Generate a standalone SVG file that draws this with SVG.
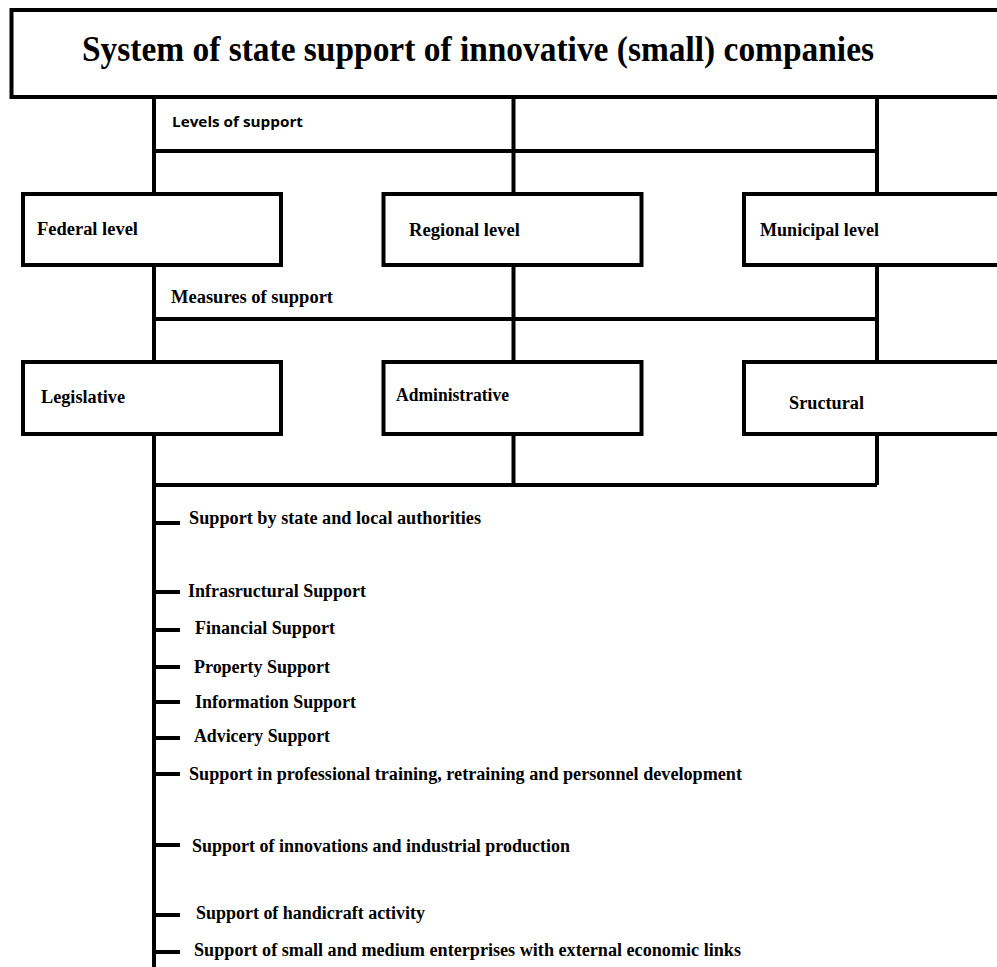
<svg xmlns="http://www.w3.org/2000/svg" width="997" height="967" viewBox="0 0 997 967">
<style>
.box{fill:#fff;stroke:#000;stroke-width:4}
.ln{stroke:#000;stroke-width:4;fill:none}
.t{font-family:"Liberation Serif","Times New Roman",serif;font-weight:bold;font-size:18px;fill:#000}
.title{font-family:"Liberation Serif","Times New Roman",serif;font-weight:bold;font-size:35px;fill:#000}
.s{font-family:"Open Sans","Liberation Sans",sans-serif;font-weight:bold;font-size:14px;fill:#000}
</style>
<rect width="997" height="967" fill="#fff"/>
<g id="connectors">
<path class="ln" d="M154 97V194M513.5 97V194M877 97V194M154 151H877"/>
<path class="ln" d="M154 265V362M513.5 265V362M877 265V362M154 319H877"/>
<path class="ln" d="M154 434V967M513.5 434V485M877 434V485M154 485H877"/>
<path class="ln" d="M154 523H180M154 592H180M154 630H180M154 667H180M154 702H180M154 738H180M154 774H180M154 845H180M154 915H180M154 952H180"/>
<text class="s" x="172" y="127" textLength="131" lengthAdjust="spacingAndGlyphs">Levels of support</text>
<text class="t" x="171" y="303" textLength="162" lengthAdjust="spacingAndGlyphs">Measures of support</text>
</g>
<g id="title">
<rect class="box" x="11.5" y="10" width="1000" height="87"/>
<text class="title" x="82" y="61" textLength="792" lengthAdjust="spacingAndGlyphs">System of state support of innovative (small) companies</text>
</g>
<g id="federal">
<rect class="box" x="23" y="194" width="258" height="71"/>
<text class="t" x="37" y="235" textLength="101" lengthAdjust="spacingAndGlyphs">Federal level</text>
</g>
<g id="regional">
<rect class="box" x="383.5" y="194" width="258" height="71"/>
<text class="t" x="409" y="236" textLength="111" lengthAdjust="spacingAndGlyphs">Regional level</text>
</g>
<g id="municipal">
<rect class="box" x="744" y="194" width="300" height="71"/>
<text class="t" x="760" y="236" textLength="119" lengthAdjust="spacingAndGlyphs">Municipal level</text>
</g>
<g id="legislative">
<rect class="box" x="23" y="362" width="258" height="72"/>
<text class="t" x="41" y="403" textLength="84" lengthAdjust="spacingAndGlyphs">Legislative</text>
</g>
<g id="administrative">
<rect class="box" x="383.5" y="362" width="258" height="72"/>
<text class="t" x="396" y="401" textLength="113" lengthAdjust="spacingAndGlyphs">Administrative</text>
</g>
<g id="structural">
<rect class="box" x="744" y="362" width="300" height="72"/>
<text class="t" x="789" y="409" textLength="75" lengthAdjust="spacingAndGlyphs">Sructural</text>
</g>
<g id="item1"><text class="t" x="189" y="524" textLength="292" lengthAdjust="spacingAndGlyphs">Support by state and local authorities</text></g>
<g id="item2"><text class="t" x="188" y="597" textLength="178" lengthAdjust="spacingAndGlyphs">Infrasructural Support</text></g>
<g id="item3"><text class="t" x="195" y="634" textLength="140" lengthAdjust="spacingAndGlyphs">Financial Support</text></g>
<g id="item4"><text class="t" x="194" y="673" textLength="136" lengthAdjust="spacingAndGlyphs">Property Support</text></g>
<g id="item5"><text class="t" x="195" y="708" textLength="161" lengthAdjust="spacingAndGlyphs">Information Support</text></g>
<g id="item6"><text class="t" x="194" y="742" textLength="136" lengthAdjust="spacingAndGlyphs">Advicery Support</text></g>
<g id="item7"><text class="t" x="189" y="780" textLength="553" lengthAdjust="spacingAndGlyphs">Support in professional training, retraining and personnel development</text></g>
<g id="item8"><text class="t" x="192" y="852" textLength="378" lengthAdjust="spacingAndGlyphs">Support of innovations and industrial production</text></g>
<g id="item9"><text class="t" x="196" y="919" textLength="229" lengthAdjust="spacingAndGlyphs">Support of handicraft activity</text></g>
<g id="item10"><text class="t" x="194" y="956" textLength="547" lengthAdjust="spacingAndGlyphs">Support of small and medium enterprises with external economic links</text></g>
</svg>
